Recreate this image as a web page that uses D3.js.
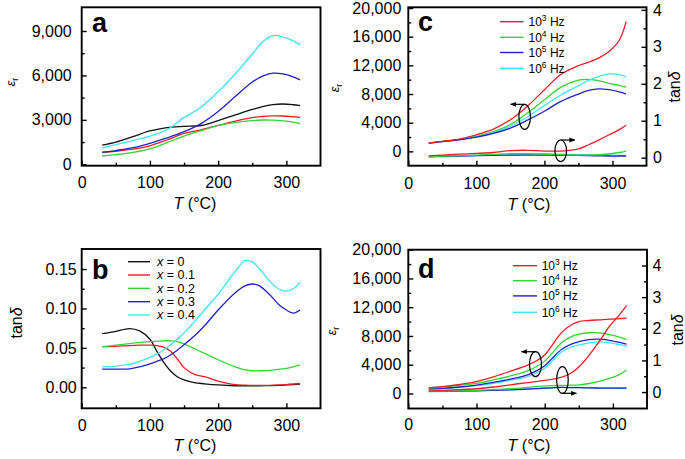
<!DOCTYPE html>
<html><head><meta charset="utf-8">
<script src="https://cdn.jsdelivr.net/npm/d3@7"></script>
<style>
body{margin:0;background:#fff}
svg{display:block}
text{font-family:"Liberation Sans",Arial,Helvetica,sans-serif;fill:#000}
</style>
</head><body>
<svg width="685" height="459"></svg>
<script>
// ---------------- DATA ----------------
// Panel a: permittivity vs T for different x
const T_A = [30,50,75,100,125,150,175,200,225,250,265,280,295,310,320];
const A_X00 = [1300,1500,1870,2250,2480,2560,2620,2950,3330,3700,3900,4030,4070,4020,3960];
const A_X01 = [820,880,1020,1250,1640,2080,2330,2620,2920,3150,3240,3270,3260,3210,3170];
const A_X02 = [560,650,800,1040,1460,1900,2270,2620,2820,2950,2990,2980,2930,2840,2750];
const A_X03 = [800,930,1120,1420,1780,2200,2750,3560,4570,5550,5950,6150,6100,5900,5700];
const A_X04 = [1100,1330,1600,1900,2330,3150,3850,4900,6100,7450,8250,8690,8600,8330,8060];

// Panel b: tan delta vs T for different x
const T_B = [30,50,70,85,100,110,120,130,140,150,165,180,200,225,240,250,260,275,290,300,310,320];
const B_X00 = [.068,.071,.0745,.0715,.061,.046,.032,.021,.0135,.0095,.006,.0045,.003,.002,.002,.002,.002,.0022,.0025,.003,.0035,.004];
const B_X01 = [.0515,.052,.053,.0535,.0535,.053,.051,.046,.036,.025,.0165,.0135,.008,.0035,.0028,.0025,.0025,.0025,.003,.0035,.0042,.005];
const B_X02 = [.0515,.0535,.0555,.057,.058,.0585,.059,.059,.058,.055,.049,.043,.035,.026,.022,.021,.021,.0215,.023,.024,.026,.0285];
const B_X03 = [.023,.023,.0235,.026,.0296,.033,.036,.041,.047,.054,.065,.078,.098,.12,.129,.131,.129,.118,.104,.098,.094,.098];
const B_X04 = [.026,.027,.029,.033,.038,.042,.047,.054,.061,.069,.083,.098,.118,.147,.161,.159,.151,.135,.124,.122,.125,.133];

// Panel c: permittivity and tan delta vs T at 4 frequencies
const T_C = [30,50,75,100,125,150,175,200,225,250,265,280,295,310,320];
const C_EPS_1E3 = [1160,1400,1720,2300,3100,4400,6300,8600,10800,11950,12450,13050,13950,15500,18100];
const C_EPS_1E4 = [1160,1380,1680,2100,2750,3750,5350,7200,9000,9950,10050,9850,9500,9200,8980];
const C_EPS_1E5 = [1160,1360,1620,1980,2500,3250,4350,5600,7000,8000,8500,8720,8600,8300,8000];
const C_EPS_1E6 = [1160,1370,1650,2020,2600,3500,4800,6400,7900,9150,9900,10450,10800,10700,10400];
const C_TAN_1E3 = [0.05,0.07,0.095,0.115,0.14,0.19,0.2,0.18,0.18,0.24,0.35,0.48,0.62,0.76,0.88];
const C_TAN_1E4 = [0.03,0.04,0.055,0.07,0.09,0.11,0.11,0.1,0.08,0.07,0.07,0.08,0.1,0.14,0.18];
const C_TAN_1E5 = [0.03,0.035,0.045,0.055,0.065,0.07,0.07,0.07,0.065,0.06,0.055,0.05,0.045,0.045,0.045];
const C_TAN_1E6 = [0.015,0.025,0.04,0.055,0.07,0.08,0.09,0.1,0.095,0.085,0.08,0.075,0.07,0.065,0.06];

// Panel d
const T_D = [30,50,75,100,125,150,175,190,200,210,225,240,250,265,280,295,310,320];
const D_EPS_1E3 = [790,950,1250,1650,2320,3100,3950,4650,5350,6600,8500,9600,10000,10150,10250,10350,10420,10480];
const D_EPS_1E4 = [790,900,1130,1400,1900,2450,3150,3850,4500,5500,7100,7950,8250,8450,8420,8200,7850,7500];
const D_EPS_1E5 = [620,720,900,1170,1550,2000,2600,3250,3850,4800,6150,6900,7200,7500,7550,7400,7100,6870];
const D_EPS_1E6 = [600,700,860,1080,1420,1850,2350,2950,3500,4400,5800,6500,6750,7050,7180,7050,6800,6630];
const D_TAN_1E3 = [0.03,0.05,0.075,0.105,0.16,0.23,0.3,0.34,0.37,0.4,0.47,0.62,0.79,1.16,1.6,2.08,2.45,2.73];
const D_TAN_1E4 = [0.02,0.03,0.04,0.055,0.08,0.105,0.15,0.18,0.19,0.2,0.21,0.22,0.23,0.27,0.34,0.43,0.56,0.7];
const D_TAN_1E5 = [0.02,0.025,0.03,0.04,0.055,0.07,0.09,0.11,0.125,0.135,0.145,0.14,0.137,0.13,0.127,0.125,0.125,0.125];
const D_TAN_1E6 = [0.01,0.018,0.03,0.04,0.06,0.08,0.1,0.115,0.125,0.135,0.145,0.148,0.147,0.14,0.135,0.13,0.128,0.128];

// Tick labels / legend labels
const X_TICKS = [0,100,200,300];
const X_MINOR = [50,150,250];
const A_TICKS = [0,3000,6000,9000];
const A_MINOR = [1500,4500,7500];
const B_TICKS = [0,0.05,0.10,0.15];
const B_MINOR = [0.025,0.075,0.125];
const CD_TICKS = [0,4000,8000,12000,16000,20000];
const CD_MINOR = [2000,6000,10000,14000,18000];
const TAN_TICKS = [0,1,2,3,4];
const TAN_MINOR = [0.5,1.5,2.5,3.5];
const X_LABELS = ["0","0.1","0.2","0.3","0.4"];
const FREQ_EXP = ["3","4","5","6"];

const RED="#ec1c24", GREEN="#36d336", BLUE="#2121c9", CYAN="#3ee8ee", BLACK="#111111";

// ---------------- DRAW ----------------
const svg = d3.select("svg");
const FS = 16;

function styleAxis(g){
  g.select(".domain").remove();
  g.selectAll(".tick line").attr("stroke","#000").attr("stroke-width",1.4);
  g.selectAll("text").attr("font-size",FS).attr("fill","#000")
   .attr("font-family","'Liberation Sans',Arial,Helvetica,sans-serif");
  g.attr("font-family",null).attr("font-size",null);
}

function panel(cfg){
  const g = svg.append("g");
  const x = d3.scaleLinear().domain([0,350]).range(cfg.xr);
  const y = d3.scaleLinear().domain(cfg.yd).range(cfg.yr);
  const y2 = cfg.y2d ? d3.scaleLinear().domain(cfg.y2d).range(cfg.yr) : null;
  const bottom = cfg.yr[0], top = cfg.yr[1], left = cfg.xr[0], right = cfg.xr[1];

  // series
  cfg.series.forEach(s=>{
    const sc = s.right ? y2 : y;
    const line = d3.line().x((d,i)=>x(s.t[i])).y(d=>sc(d)).curve(d3.curveCatmullRom.alpha(0.5));
    g.append("path").attr("d",line(s.v)).attr("fill","none")
     .attr("stroke",s.c).attr("stroke-width",1.3);
  });

  // axes
  g.append("g").attr("transform",`translate(0,${bottom})`)
    .call(d3.axisBottom(x).tickValues(X_TICKS).tickSize(-5).tickPadding(cfg.xpad).tickFormat(d3.format("d"))).call(styleAxis);
  g.append("g").attr("transform",`translate(0,${bottom})`)
    .call(d3.axisBottom(x).tickValues(X_MINOR).tickSize(-3).tickFormat("")).call(styleAxis);
  g.append("g").attr("transform",`translate(${left},0)`)
    .call(d3.axisLeft(y).tickValues(cfg.yt).tickSize(-5).tickPadding(cfg.ypad).tickFormat(cfg.yf)).call(styleAxis);
  g.append("g").attr("transform",`translate(${left},0)`)
    .call(d3.axisLeft(y).tickValues(cfg.ym).tickSize(-3).tickFormat("")).call(styleAxis);
  if(y2){
    g.append("g").attr("transform",`translate(${right},0)`)
      .call(d3.axisRight(y2).tickValues(TAN_TICKS).tickSize(-5).tickPadding(cfg.y2pad).tickFormat(d3.format("d"))).call(styleAxis);
    g.append("g").attr("transform",`translate(${right},0)`)
      .call(d3.axisRight(y2).tickValues(TAN_MINOR).tickSize(-3).tickFormat("")).call(styleAxis);
  }
  // frame
  g.append("rect").attr("x",left).attr("y",top).attr("width",right-left).attr("height",bottom-top)
   .attr("fill","none").attr("stroke","#000").attr("stroke-width",1.9);

  // panel letter
  g.append("text").attr("x",cfg.letterPos[0]).attr("y",cfg.letterPos[1])
   .attr("font-size",27).attr("font-weight","bold").text(cfg.letter);

  // x label
  const xl = g.append("text").attr("x",cfg.xlab[0]).attr("y",cfg.xlab[1]).attr("text-anchor","middle").attr("font-size",FS);
  xl.append("tspan").attr("font-style","italic").text("T");
  xl.append("tspan").text(" (°C)");
  return {g,x,y,y2};
}

function epsLabel(g,cx,cy){
  const t = g.append("text").attr("transform",`translate(${cx},${cy}) rotate(-90)`)
    .attr("text-anchor","middle").attr("font-size",12.5);
  t.append("tspan").attr("font-style","italic").text("ε");
  t.append("tspan").attr("font-size",9).attr("dy",3).text("r");
}
function tanLabel(g,cx,cy){
  const t = g.append("text").attr("transform",`translate(${cx},${cy}) rotate(-90)`)
    .attr("text-anchor","middle").attr("font-size",FS);
  t.append("tspan").text("tan");
  t.append("tspan").attr("font-style","italic").text("δ");
}

// arrow marker
svg.append("defs").append("marker").attr("id","ah").attr("viewBox","0 0 10 10")
  .attr("refX",9).attr("refY",5).attr("markerWidth",5).attr("markerHeight",5).attr("orient","auto")
  .append("path").attr("d","M0,1 L10,5 L0,9 Z").attr("fill","#000");

function loop(P,T,v,useRight,rx,ry,dir,fromBottom){
  const sc = useRight ? P.y2 : P.y;
  const cx = P.x(T), cy = sc(v);
  P.g.append("ellipse").attr("cx",cx).attr("cy",cy).attr("rx",rx).attr("ry",ry)
    .attr("fill","none").attr("stroke","#000").attr("stroke-width",1.2);
  const ay = fromBottom ? cy+ry : cy-ry;
  P.g.append("line").attr("x1",cx).attr("y1",ay).attr("x2",cx+dir*14).attr("y2",ay)
    .attr("stroke","#000").attr("stroke-width",1.2).attr("marker-end","url(#ah)");
}

// ---- Panel a ----
const PA = panel({
  xr:[81.7,320.5], yr:[165.7,7.3], yd:[-95,10600], yt:A_TICKS, ym:A_MINOR, yf:d3.format(","),
  xpad:11, ypad:10, letter:"a", letterPos:[92,32], xlab:[195,209],
  series:[
    {t:T_A,v:A_X00,c:BLACK},{t:T_A,v:A_X01,c:RED},{t:T_A,v:A_X02,c:GREEN},
    {t:T_A,v:A_X03,c:BLUE},{t:T_A,v:A_X04,c:CYAN}
  ]
});
epsLabel(PA.g,15,82);

// ---- Panel b ----
const PB = panel({
  xr:[81.7,320.5], yr:[408.3,249], yd:[-0.0266,0.1754], yt:B_TICKS, ym:B_MINOR, yf:d3.format(".2f"),
  xpad:11, ypad:5, letter:"b", letterPos:[92,279], xlab:[195,451],
  series:[
    {t:T_B,v:B_X00,c:BLACK},{t:T_B,v:B_X01,c:RED},{t:T_B,v:B_X02,c:GREEN},
    {t:T_B,v:B_X03,c:BLUE},{t:T_B,v:B_X04,c:CYAN}
  ]
});
tanLabel(PB.g,22,323);
// legend b
const legB = PB.g.append("g");
[BLACK,RED,GREEN,BLUE,CYAN].forEach((c,i)=>{
  const yy = 261.7 + i*13.33;
  legB.append("line").attr("x1",128).attr("x2",150).attr("y1",yy).attr("y2",yy).attr("stroke",c).attr("stroke-width",1.4);
  const t = legB.append("text").attr("x",157).attr("y",yy+4.3).attr("font-size",12.5);
  t.append("tspan").attr("font-style","italic").text("x");
  t.append("tspan").text(" = " + X_LABELS[i]);
});

// ---- Panel c ----
const PC = panel({
  xr:[408.3,646.5], yr:[165.7,7.3], yd:[-2000,20100], y2d:[-0.217,4.07], yt:CD_TICKS, ym:CD_MINOR, yf:d3.format(","),
  xpad:11.5, ypad:7, y2pad:6.5, letter:"c", letterPos:[418,31], xlab:[529,210],
  series:[
    {t:T_C,v:C_EPS_1E4,c:GREEN},{t:T_C,v:C_EPS_1E6,c:CYAN},{t:T_C,v:C_EPS_1E5,c:BLUE},{t:T_C,v:C_EPS_1E3,c:RED},
    {t:T_C,v:C_TAN_1E6,c:CYAN,right:true},{t:T_C,v:C_TAN_1E5,c:BLUE,right:true},
    {t:T_C,v:C_TAN_1E4,c:GREEN,right:true},{t:T_C,v:C_TAN_1E3,c:RED,right:true}
  ]
});
epsLabel(PC.g,339,88);
tanLabel(PC.g,680,87);
loop(PC,171,4820,false,5.8,12.5,-1,false);
loop(PC,224,0.186,true,5.8,10.8,1,false);

// ---- Panel d ----
const PD = panel({
  xr:[408.3,647], yr:[408.5,249.7], yd:[-2090,20000], y2d:[-0.52,4.5], yt:CD_TICKS, ym:CD_MINOR, yf:d3.format(","),
  xpad:10.5, ypad:7, y2pad:5.5, letter:"d", letterPos:[418,278], xlab:[529,451],
  series:[
    {t:T_D,v:D_EPS_1E6,c:CYAN},{t:T_D,v:D_EPS_1E5,c:BLUE},{t:T_D,v:D_EPS_1E4,c:GREEN},{t:T_D,v:D_EPS_1E3,c:RED},
    {t:T_D,v:D_TAN_1E6,c:CYAN,right:true},{t:T_D,v:D_TAN_1E5,c:BLUE,right:true},
    {t:T_D,v:D_TAN_1E4,c:GREEN,right:true},{t:T_D,v:D_TAN_1E3,c:RED,right:true}
  ]
});
epsLabel(PD.g,336,331);
tanLabel(PD.g,683,330);
loop(PD,186.5,4070,false,6,12.5,-1,false);
loop(PD,226,0.381,true,5.8,13.3,1,true);

// freq legends
function freqLegend(P,x1,x2,tx,ys){
  [RED,GREEN,BLUE,CYAN].forEach((c,i)=>{
    const yy = ys[i];
    P.g.append("line").attr("x1",x1).attr("x2",x2).attr("y1",yy).attr("y2",yy).attr("stroke",c).attr("stroke-width",1.4);
    const t = P.g.append("text").attr("x",tx).attr("y",yy+4.2).attr("font-size",12);
    t.append("tspan").text("10");
    t.append("tspan").attr("font-size",8.5).attr("dy",-5).text(FREQ_EXP[i]);
    t.append("tspan").attr("dy",5).text(" Hz");
  });
}
freqLegend(PC,500,523.5,528.5,[21.7,37.3,52.5,68.3]);
freqLegend(PD,513,537,541.7,[265.7,280.7,295.9,312.3]);
</script>
</body></html>
